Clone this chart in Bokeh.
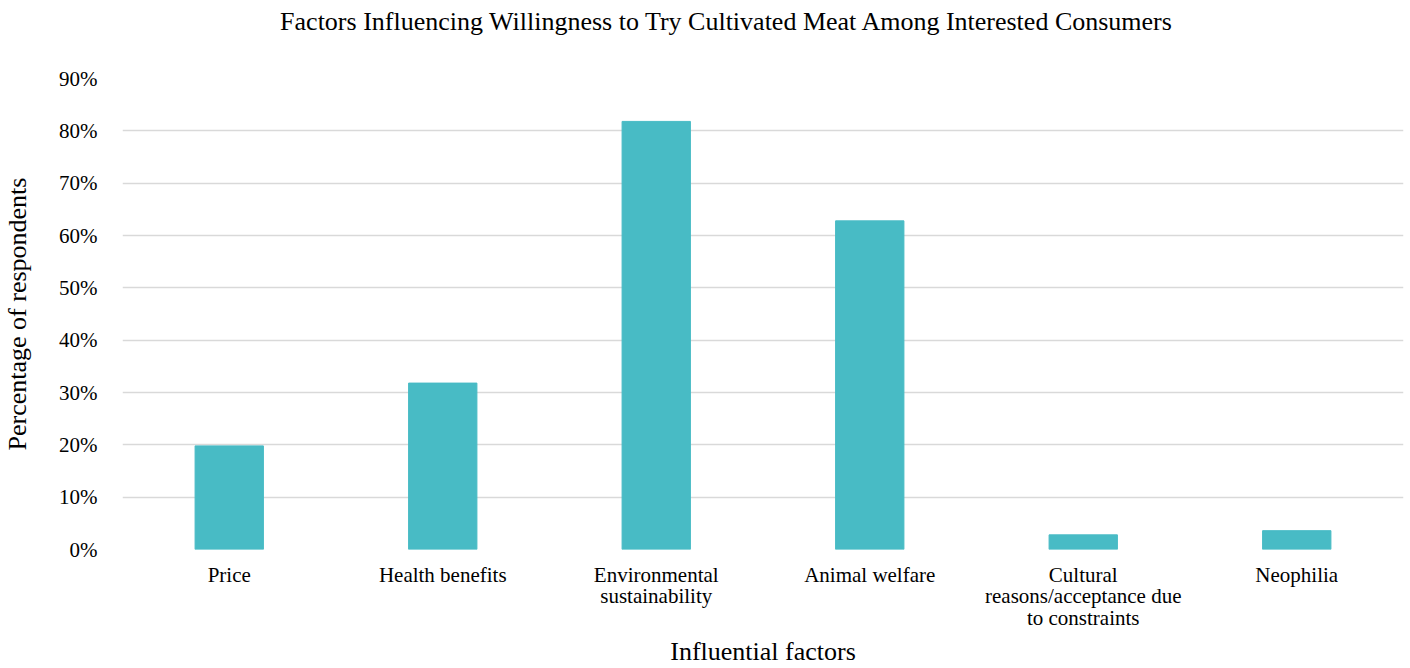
from bokeh.plotting import figure
from bokeh.models import ColumnDataSource, NumeralTickFormatter, FixedTicker, Range1d, Div
from bokeh.layouts import column
from bokeh.embed import file_html
from bokeh.resources import INLINE

# Survey results (category names wrapped the way they are printed)
factors = ["Price", "Health benefits", "Environmental\nsustainability",
           "Animal welfare", "Cultural\nreasons/acceptance due\nto constraints",
           "Neophilia"]
shares = [0.198, 0.318, 0.818, 0.628, 0.028, 0.036]
y_ticks = [0.0, 0.1, 0.2, 0.3, 0.4, 0.5, 0.6, 0.7, 0.8, 0.9]
title_text = "Factors Influencing Willingness to Try Cultivated Meat Among Interested Consumers"

FONT = "Liberation Serif"

source = ColumnDataSource(data=dict(factor=factors, share=shares))

# Heading above the chart
heading = Div(
    text=title_text, width=1410, height=34,
    styles={"font-family": FONT, "font-size": "26px", "color": "#000000",
            "text-align": "center", "line-height": "34px",
            "padding-left": "32px", "box-sizing": "border-box",
            "white-space": "nowrap"},
)

p = figure(
    x_range=factors,
    y_range=Range1d(0, 0.9),
    width=1410, height=624,
    output_backend="svg", toolbar_location=None,
    min_border_left=122, min_border_right=7, min_border_top=34, min_border_bottom=119,
)

p.vbar(x="factor", top="share", width=0.32, source=source,
       fill_color="#48BBC5", line_color="#48BBC5")

# Y axis
p.yaxis.ticker = FixedTicker(ticks=y_ticks)
p.yaxis.formatter = NumeralTickFormatter(format="0%")
p.yaxis.axis_line_color = None
p.yaxis.major_tick_line_color = None
p.yaxis.minor_tick_line_color = None
p.yaxis.major_label_text_font = FONT
p.yaxis.major_label_text_font_size = "21px"
p.yaxis.major_label_text_color = "#000000"
p.yaxis.major_label_standoff = 19
p.yaxis.axis_label = "Percentage of respondents"
p.yaxis.axis_label_text_font = FONT
p.yaxis.axis_label_text_font_size = "26px"
p.yaxis.axis_label_text_font_style = "normal"
p.yaxis.axis_label_text_color = "#000000"
p.yaxis.axis_label_standoff = 24

# X axis
p.xaxis.axis_line_color = None
p.xaxis.major_tick_line_color = None
p.xaxis.minor_tick_line_color = None
p.xaxis.major_label_text_font = FONT
p.xaxis.major_label_text_font_size = "21px"
p.xaxis.major_label_text_color = "#000000"
p.xaxis.major_label_text_line_height = 0.9
p.xaxis.major_label_standoff = 7
p.xaxis.axis_label = "Influential factors"
p.xaxis.axis_label_text_font = FONT
p.xaxis.axis_label_text_font_size = "26px"
p.xaxis.axis_label_text_font_style = "normal"
p.xaxis.axis_label_text_color = "#000000"
p.xaxis.axis_label_standoff = 4

# Grid
p.xgrid.grid_line_color = None
p.ygrid.grid_line_color = "#d9d9d9"
p.ygrid.grid_line_width = 1.5
p.outline_line_color = None
p.background_fill_color = "white"
p.border_fill_color = "white"

layout = column(heading, p, spacing=0)

open("out.html", "w").write(file_html(layout, INLINE))
